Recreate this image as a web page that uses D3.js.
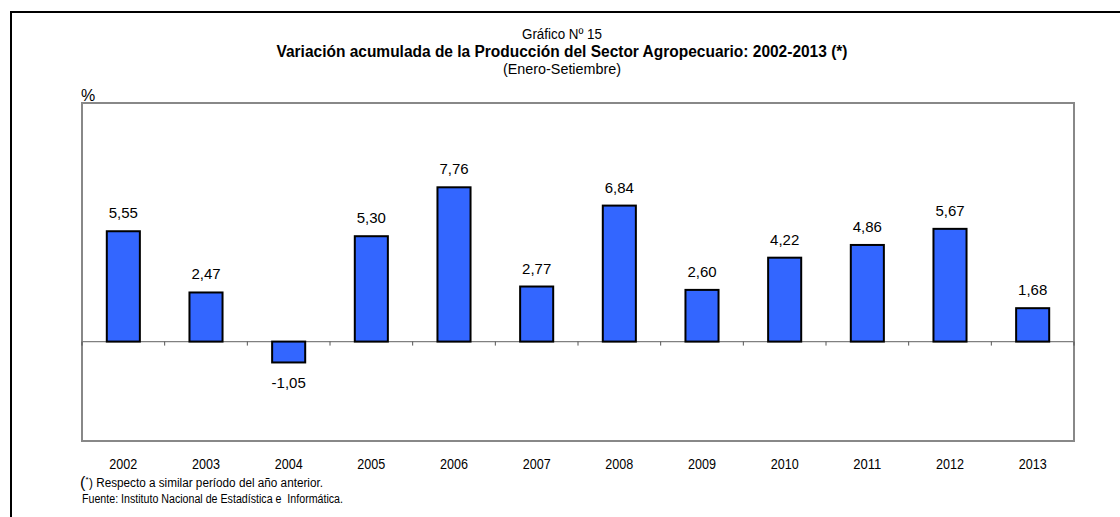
<!DOCTYPE html>
<html>
<head>
<meta charset="utf-8">
<script src="https://cdn.jsdelivr.net/npm/d3@7/dist/d3.min.js"></script>
<style>
  body { margin: 0; background: #fff; }
  svg { display: block; }
  text { font-family: "Liberation Sans", Arial, sans-serif; fill: #000; }
</style>
</head>
<body>
<svg id="chart"></svg>
<script>
const WIDTH = 1120;
const HEIGHT = 517;

const years = ["2002", "2003", "2004", "2005", "2006", "2007", "2008", "2009", "2010", "2011", "2012", "2013"];
const values = [5.55, 2.47, -1.05, 5.30, 7.76, 2.77, 6.84, 2.60, 4.22, 4.86, 5.67, 1.68];
const yDomain = [-5, 12];

window.onload = function(){
    makeChart();
};

function makeChart(){
    let svg = d3.select('#chart')
        .attr('width', WIDTH)
        .attr('height', HEIGHT);

    const plot = {left: 82, top: 103, right: 1074, bottom: 441};

    // outer frame (runs off the right and bottom of the page)
    svg.append('rect')
        .attr('x', 11).attr('y', 12)
        .attr('width', WIDTH + 20).attr('height', HEIGHT + 20)
        .style('fill', 'none')
        .style('stroke', 'black')
        .style('stroke-width', 2);

    const x = d3.scaleBand()
        .domain(years)
        .range([plot.left, plot.right])
        .paddingInner(0.6)
        .paddingOuter(0.3);

    const y = d3.scaleLinear()
        .domain(yDomain)
        .range([plot.bottom, plot.top]);

    // plot box
    svg.append('rect')
        .attr('x', plot.left).attr('y', plot.top)
        .attr('width', plot.right - plot.left)
        .attr('height', plot.bottom - plot.top)
        .style('fill', 'white')
        .style('stroke', '#888')
        .style('stroke-width', 2);

    // zero axis with ticks between categories
    svg.append('line')
        .attr('x1', plot.left).attr('x2', plot.right)
        .attr('y1', y(0)).attr('y2', y(0))
        .style('stroke', '#808080')
        .style('stroke-width', 1.3);

    const step = x.step();
    svg.append('g').selectAll('line')
        .data(d3.range(years.length + 1))
        .enter()
        .append('line')
        .attr('x1', i => plot.left + i * step)
        .attr('x2', i => plot.left + i * step)
        .attr('y1', y(0))
        .attr('y2', y(0) + 4)
        .style('stroke', '#555')
        .style('stroke-width', 1);

    // bars
    svg.append('g').selectAll('rect')
        .data(values)
        .enter()
        .append('rect')
        .attr('x', (d, i) => x(years[i]))
        .attr('width', x.bandwidth())
        .attr('y', d => y(Math.max(0, d)))
        .attr('height', d => Math.abs(y(d) - y(0)))
        .style('fill', '#3366FF')
        .style('stroke', 'black')
        .style('stroke-width', 2);

    // value labels (comma decimals, plain hyphen)
    svg.append('g').selectAll('text')
        .data(values)
        .enter()
        .append('text')
        .attr('x', (d, i) => x(years[i]) + x.bandwidth() / 2)
        .attr('y', d => d >= 0 ? y(d) - 13 : y(d) + 26)
        .attr('text-anchor', 'middle')
        .style('font-size', '15px')
        .text(d => d.toFixed(2).replace('.', ','));

    // year labels
    svg.append('g').selectAll('text')
        .data(years)
        .enter()
        .append('text')
        .attr('x', d => x(d) + x.bandwidth() / 2)
        .attr('y', 469)
        .attr('text-anchor', 'middle')
        .attr('textLength', 28)
        .attr('lengthAdjust', 'spacingAndGlyphs')
        .style('font-size', '14px')
        .text(d => d);

    // titles (squeezed to mimic the narrow face)
    const cx = 562;
    function title(txt, yy, size, len, bold){
        svg.append('text')
            .attr('x', cx - len / 2).attr('y', yy)
            .attr('textLength', len)
            .attr('lengthAdjust', 'spacingAndGlyphs')
            .style('font-size', size + 'px')
            .style('font-weight', bold ? 'bold' : 'normal')
            .text(txt);
    }
    title('Gráfico Nº 15', 39, 14, 80, false);
    title('Variación acumulada de la Producción del Sector Agropecuario: 2002-2013 (*)', 57, 16, 571, true);
    title('(Enero-Setiembre)', 74, 14, 118, false);

    svg.append('text')
        .attr('x', 81).attr('y', 101)
        .style('font-size', '16px')
        .text('%');

    // footnotes
    svg.append('text').attr('x', 80).attr('y', 488).style('font-size', '16px').text('(');
    svg.append('text').attr('x', 85.5).attr('y', 482).style('font-size', '8px').text('*');
    svg.append('text')
        .attr('x', 89).attr('y', 487)
        .attr('textLength', 234)
        .attr('lengthAdjust', 'spacingAndGlyphs')
        .style('font-size', '12px')
        .text(') Respecto a similar período del año anterior.');

    svg.append('text')
        .attr('x', 82).attr('y', 503)
        .attr('textLength', 261)
        .attr('lengthAdjust', 'spacingAndGlyphs')
        .style('font-size', '12px')
        .style('white-space', 'pre')
        .text('Fuente: Instituto Nacional de Estadística e  Informática.');
}
</script>
</body>
</html>
